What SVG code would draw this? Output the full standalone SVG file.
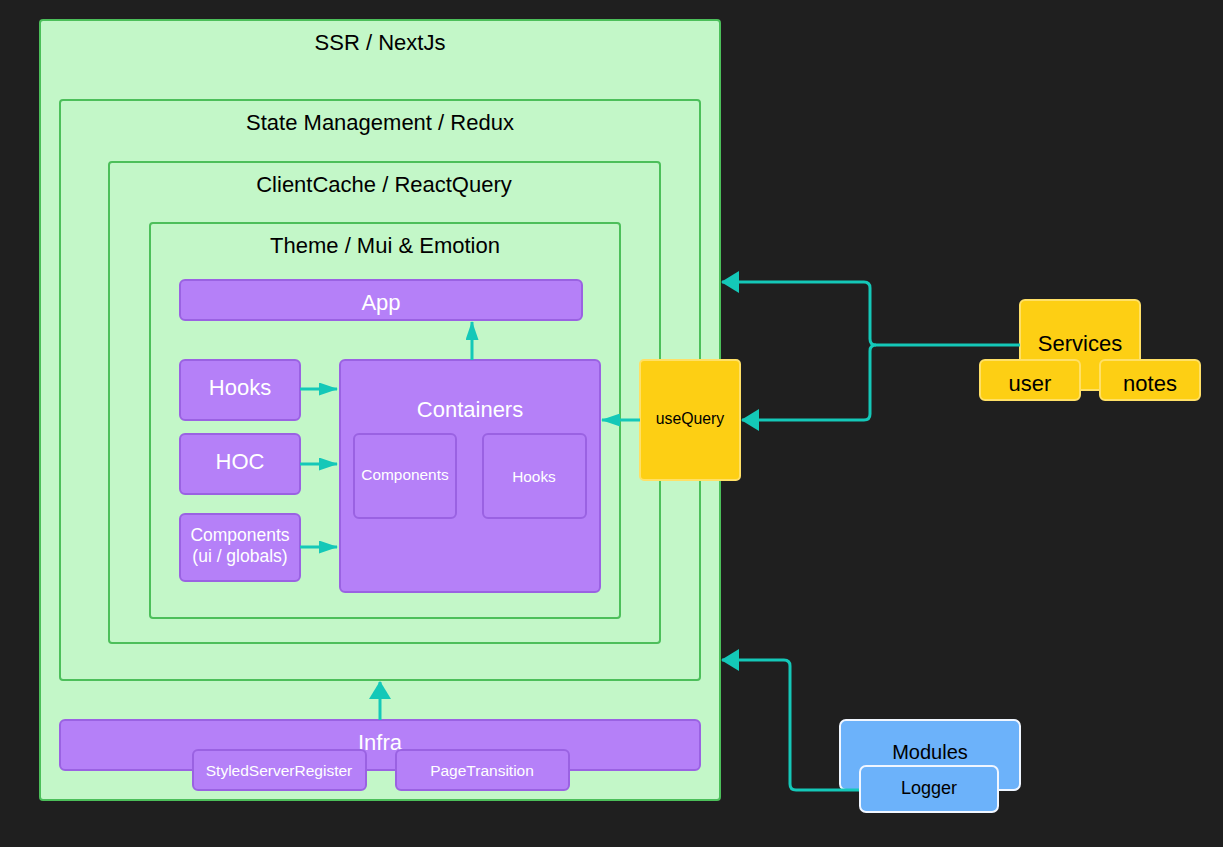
<svg xmlns="http://www.w3.org/2000/svg" width="1223" height="847" viewBox="0 0 1223 847">
<style>
text{font-family:"Liberation Sans",Arial,sans-serif;text-anchor:middle;dominant-baseline:central}
.g{fill:#c3f7c8;stroke:#4cbf5a;stroke-width:2}
.gt{font-size:22px;fill:#000}
.p{fill:#b580f8;stroke:#9a62e2;stroke-width:2}
.pt{fill:#fff}
.y{fill:#fdcf14;stroke:#ffe066;stroke-width:2}
.b{fill:#6cb2fa;stroke:#f0f6ff;stroke-width:2}
.c{fill:none;stroke:#14c8b8;stroke-width:3;stroke-linejoin:round}
</style>
<defs>
<marker id="a" viewBox="0 0 18 22" refX="17" refY="11" markerWidth="18" markerHeight="22" orient="auto" markerUnits="userSpaceOnUse"><path d="M0,0L18,11L0,22z" fill="#14c8b8"/></marker>
<marker id="s" viewBox="0 0 19 13" refX="18" refY="6.5" markerWidth="19" markerHeight="13" orient="auto" markerUnits="userSpaceOnUse"><path d="M0,0L19,6.5L0,13z" fill="#14c8b8"/></marker>
</defs>
<rect width="1223" height="847" fill="#1f1f1f"/>
<g id="ssr"><rect class="g" x="40" y="20" width="680" height="780" rx="3"/><text class="gt" x="380" y="42">SSR / NextJs</text></g>
<g id="redux"><rect class="g" x="60" y="100" width="640" height="580" rx="3"/><text class="gt" x="380" y="122">State Management / Redux</text></g>
<g id="cache"><rect class="g" x="109" y="162" width="551" height="481" rx="3"/><text class="gt" x="384" y="184">ClientCache / ReactQuery</text></g>
<g id="theme"><rect class="g" x="150" y="223" width="470" height="395" rx="3"/><text class="gt" x="385" y="245">Theme / Mui &amp; Emotion</text></g>
<g id="app"><rect class="p" x="180" y="280" width="402" height="40" rx="5"/><text class="pt" x="381" y="302" font-size="22">App</text></g>
<g id="hooks"><rect class="p" x="180" y="360" width="120" height="60" rx="5"/><text class="pt" x="240" y="387" font-size="22">Hooks</text></g>
<g id="hoc"><rect class="p" x="180" y="434" width="120" height="60" rx="5"/><text class="pt" x="240" y="461" font-size="22">HOC</text></g>
<g id="uicomp"><rect class="p" x="180" y="514" width="120" height="67" rx="5"/><text class="pt" x="240" y="535" font-size="17.5">Components</text><text class="pt" x="240" y="556" font-size="17.5">(ui / globals)</text></g>
<g id="containers"><rect class="p" x="340" y="360" width="260" height="232" rx="5"/><text class="pt" x="470" y="409" font-size="22">Containers</text>
<rect class="p" x="354" y="434" width="102" height="84" rx="5"/><text class="pt" x="405" y="474" font-size="15.4">Components</text>
<rect class="p" x="483" y="434" width="103" height="84" rx="5"/><text class="pt" x="534" y="476" font-size="15.4">Hooks</text></g>
<g id="usequery"><rect class="y" x="640" y="360" width="100" height="120" rx="4"/><text x="690" y="418" font-size="15.8">useQuery</text></g>
<g id="services"><rect class="y" x="1020" y="300" width="120" height="90" rx="5"/><text x="1080" y="343" font-size="22">Services</text>
<rect class="y" x="980" y="360" width="100" height="40" rx="5"/><text x="1030" y="383" font-size="22">user</text>
<rect class="y" x="1100" y="360" width="100" height="40" rx="5"/><text x="1150" y="383" font-size="22">notes</text></g>
<g id="infra"><rect class="p" x="60" y="720" width="640" height="50" rx="5"/><text class="pt" x="380" y="742" font-size="22">Infra</text>
<rect class="p" x="193" y="750" width="173" height="40" rx="5"/><text class="pt" x="279" y="770" font-size="15.5">StyledServerRegister</text>
<rect class="p" x="396" y="750" width="173" height="40" rx="5"/><text class="pt" x="482" y="770" font-size="15.5">PageTransition</text></g>
<g id="modules"><rect class="b" x="840" y="720" width="180" height="70" rx="6"/><text x="930" y="752" font-size="20">Modules</text></g>
<g id="connectors">
<path class="c" d="M300,389H337" marker-end="url(#s)"/>
<path class="c" d="M300,464H337" marker-end="url(#s)"/>
<path class="c" d="M300,547H337" marker-end="url(#s)"/>
<path class="c" d="M472,360V322" marker-end="url(#s)"/>
<path class="c" d="M640,420H602" marker-end="url(#s)"/>
<path class="c" d="M1020,345H876Q870,345 870,339V288Q870,282 864,282H722" marker-end="url(#a)"/>
<path class="c" d="M876,345Q870,345 870,351V414Q870,420 864,420H742" marker-end="url(#a)"/>
<path class="c" d="M380,720V682" marker-end="url(#a)"/>
<path class="c" d="M862,790H796Q790,790 790,784V666Q790,660 784,660H722" marker-end="url(#a)"/>
</g>
<g id="logger"><rect class="b" x="860" y="766" width="138" height="46" rx="6"/><text x="929" y="788" font-size="18">Logger</text></g>
</svg>
